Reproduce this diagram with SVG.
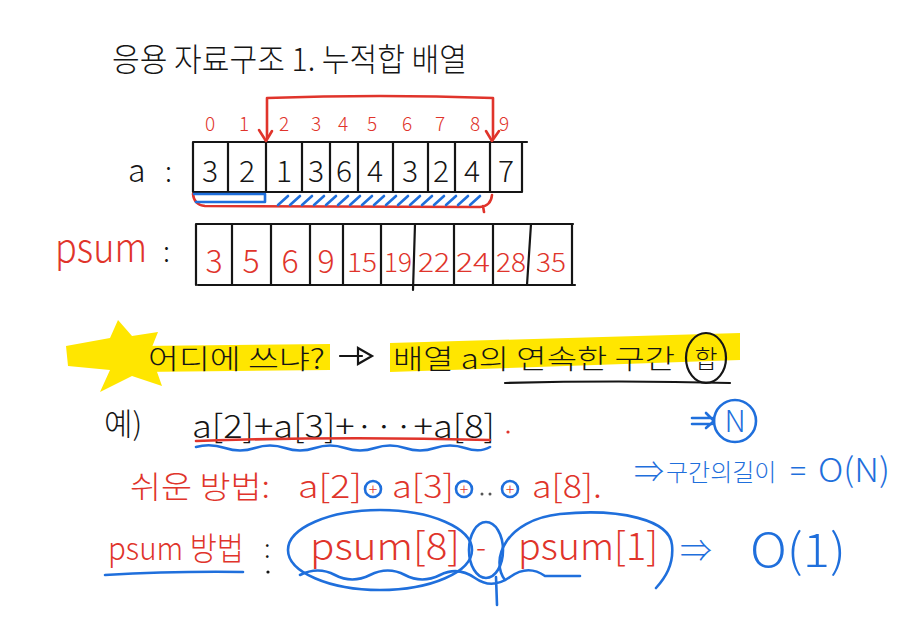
<svg xmlns="http://www.w3.org/2000/svg" width="902" height="618" viewBox="0 0 902 618">
<style>
.k{fill:#151515;font-family:"Noto Sans CJK KR","Liberation Sans",sans-serif;font-weight:300}
.r{fill:#e0342b;font-family:"Noto Sans CJK KR","Liberation Sans",sans-serif;font-weight:300}
.b{fill:#1f6fdc;font-family:"Noto Sans CJK KR","Liberation Sans",sans-serif;font-weight:300}
.ks{stroke:#151515;stroke-width:2.2;fill:none;stroke-linecap:round}
.rs{stroke:#e0342b;stroke-width:2.6;fill:none;stroke-linecap:round;stroke-linejoin:round}
.bs{stroke:#1f6fdc;stroke-width:2.6;fill:none;stroke-linecap:round;stroke-linejoin:round}
.c{text-anchor:middle}
</style>
<rect width="902" height="618" fill="#ffffff"/>

<g id="title">
<text class="k" x="112" y="71" font-size="32" textLength="355" lengthAdjust="spacingAndGlyphs">응용 자료구조 1. 누적합 배열</text>
</g>

<g id="array-a">
<text class="k" x="128" y="182" font-size="32">a</text>
<text class="k" x="165" y="182" font-size="28">:</text>
<path class="ks" d="M193 142 L527 142 M193 192 L522 192 M193 142 L193 192 M228 142 L228 192 M266 142 L266 192 M302 142 L302 192 M330 142 L330 192 M358 142 L358 192 M393 142 L393 192 M428 142 L428 192 M455 142 L455 192 M490 142 L490 192 M522 142 L522 192"/>
<g class="k c" font-size="30">
<text x="210" y="182">3</text><text x="247" y="182">2</text><text x="284" y="182">1</text><text x="316" y="182">3</text><text x="344" y="182">6</text><text x="375" y="182">4</text><text x="410" y="182">3</text><text x="441" y="182">2</text><text x="472" y="182">4</text><text x="506" y="182">7</text>
</g>
<g class="r c" font-size="19">
<text x="210" y="131">0</text><text x="244" y="131">1</text><text x="284" y="131">2</text><text x="316" y="131">3</text><text x="343" y="131">4</text><text x="372" y="131">5</text><text x="407" y="131">6</text><text x="440" y="131">7</text><text x="475" y="131">8</text><text x="504" y="131">9</text>
</g>
</g>

<g id="range-marks">
<path class="rs" d="M267 138 L267 98 Q380 94 493 98 L493 138"/>
<path class="rs" d="M259 130 L266 141 L272 131"/>
<path class="rs" d="M486 131 L492 141 L499 131"/>
<path class="rs" d="M193 194 Q194 205 205 206 L480 207 Q491 206 492 195 M483 206 L484 212"/>
<path class="bs" stroke-width="2" d="M194 194 L265 194 L265 202 L196 202"/>
<path class="bs" stroke-width="1.8" d="M278 205 L288 196 M290 205 L300 196 M302 205 L312 196 M314 205 L324 196 M326 205 L336 196 M338 205 L348 196 M350 205 L360 196 M362 205 L372 196 M374 205 L384 196 M386 205 L396 196 M398 205 L408 196 M410 205 L420 196 M422 205 L432 196 M434 205 L444 196 M446 205 L456 196 M458 205 L468 196 M470 205 L480 196"/>
</g>

<g id="array-psum">
<text class="r" x="55" y="262" font-size="40" textLength="92" lengthAdjust="spacingAndGlyphs">psum</text>
<text class="k" x="163" y="262" font-size="28">:</text>
<path class="ks" d="M196 224 L573 224 M198 285 L575 285 M196 224 L196 285 M232 224 L232 285 M271 224 L271 285 M310 224 L310 285 M343 224 L343 285 M381 224 L381 285 M415 224 L413 290 M454 224 L454 285 M493 224 L493 285 M531 224 L527 285 M572 224 L572 285"/>
<g class="r c" font-size="32">
<text x="214" y="273">3</text><text x="251" y="273">5</text><text x="290" y="273">6</text><text x="326" y="273">9</text>
</g>
<g class="r c" font-size="26">
<text x="362" y="272" textLength="30" lengthAdjust="spacingAndGlyphs">15</text><text x="398" y="272" textLength="28" lengthAdjust="spacingAndGlyphs">19</text><text x="434" y="272" textLength="32" lengthAdjust="spacingAndGlyphs">22</text><text x="473" y="272" textLength="34" lengthAdjust="spacingAndGlyphs">24</text><text x="511" y="272" textLength="30" lengthAdjust="spacingAndGlyphs">28</text><text x="551" y="272" textLength="30" lengthAdjust="spacingAndGlyphs">35</text>
</g>
</g>

<g id="question">
<polygon fill="#ffe600" points="66,346 110,338 118,320 132,336 158,332 150,352 162,386 132,376 100,392 110,370 68,366"/>
<path d="M140 346 L330 344 L330 370 L140 372 Z" fill="#ffe600"/>
<path d="M390 343 L740 333 L740 360 L390 372 Z" fill="#ffe600"/>
<text class="k" x="148" y="369" font-size="27" textLength="177" lengthAdjust="spacingAndGlyphs">어디에 쓰냐?</text>
<path class="ks" d="M340 356 L362 356 M358 348 L372 356 L358 364 Z"/>
<text class="k" x="393" y="369" font-size="27" textLength="282" lengthAdjust="spacingAndGlyphs">배열 a의 연속한 구간</text>
<ellipse class="ks" cx="706" cy="358" rx="20" ry="25"/>
<text class="k c" x="706" y="368" font-size="25">합</text>
<path class="ks" d="M505 383 Q620 380 730 383"/>
</g>

<g id="example">
<text class="k" x="104" y="435" font-size="31">예)</text>
<text class="k" x="192" y="438" font-size="32" textLength="303" lengthAdjust="spacingAndGlyphs">a[2]+a[3]+···+a[8]</text>
<path class="rs" d="M196 441 Q340 436 490 440"/>
<path class="bs" d="M196 447 Q210 443 225 448 T255 448 T285 448 T315 448 T345 448 T375 448 T405 448 T435 448 T465 448 T490 447"/>
<circle cx="508" cy="432" r="1.6" fill="#e0342b"/>
<circle class="bs" cx="735" cy="421" r="21"/>
<text class="b c" x="735" y="432" font-size="30">N</text>
<path class="bs" d="M692 418 L712 418 M692 424 L712 424 M706 413 L714 421 L706 428"/>
</g>

<g id="easy">
<text class="r" x="130" y="498" font-size="31" textLength="140" lengthAdjust="spacingAndGlyphs">쉬운 방법:</text>
<text class="r" x="298" y="498" font-size="32" textLength="64" lengthAdjust="spacingAndGlyphs">a[2]</text>
<circle class="bs" cx="373" cy="489" r="8"/><text class="r c" x="373" y="495" font-size="16">+</text>
<text class="r" x="392" y="498" font-size="32" textLength="62" lengthAdjust="spacingAndGlyphs">a[3]</text>
<circle class="bs" cx="464" cy="489" r="8"/><text class="r c" x="464" y="495" font-size="16">+</text>
<circle cx="482" cy="494" r="1.5" fill="#555"/><circle cx="490" cy="494" r="1.5" fill="#555"/>
<circle class="bs" cx="510" cy="489" r="8"/><text class="r c" x="510" y="495" font-size="16">+</text>
<text class="r" x="532" y="498" font-size="32" textLength="70" lengthAdjust="spacingAndGlyphs">a[8].</text>
<text class="b" x="634" y="482" font-size="30">⇒</text>
<text class="b" x="666" y="481" font-size="24">구간의길이</text>
<text class="b" x="790" y="482" font-size="30">=</text>
<text class="b" x="818" y="482" font-size="33" textLength="72" lengthAdjust="spacingAndGlyphs">O(N)</text>
</g>

<g id="psum-method">
<text class="r" x="108" y="560" font-size="32" textLength="136" lengthAdjust="spacingAndGlyphs">psum 방법</text>
<path class="bs" d="M105 575 Q175 571 243 572"/>
<text class="k" x="264" y="558" font-size="26">:</text>
<circle cx="268" cy="572" r="1.6" fill="#151515"/>
<text class="r" x="310" y="560" font-size="38" textLength="150" lengthAdjust="spacingAndGlyphs">psum[8]</text>
<text class="r" x="476" y="558" font-size="30">-</text>
<text class="r" x="518" y="560" font-size="38" textLength="140" lengthAdjust="spacingAndGlyphs">psum[1]</text>
<ellipse class="bs" cx="380" cy="550" rx="92" ry="40"/>
<ellipse class="bs" cx="486" cy="550" rx="17" ry="28"/>
<path class="bs" d="M505 580 C490 560 505 520 560 514 C620 508 670 520 672 545 C674 565 665 578 656 588"/>
<path class="bs" d="M300 575 Q318 566 335 575 T370 575 T405 575 T440 575 T475 578 T510 577 T545 576 L580 576 M496 577 L497 605"/>
<text class="b" x="680" y="562" font-size="32">⇒</text>
<text class="b" x="750" y="567" font-size="46" textLength="96" lengthAdjust="spacingAndGlyphs">O(1)</text>
</g>
</svg>
